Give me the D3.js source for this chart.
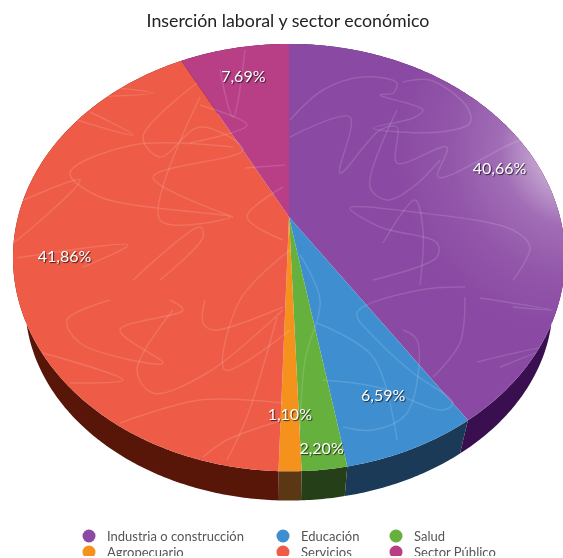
<!DOCTYPE html>
<html>
<head>
<meta charset="utf-8">
<script src="https://cdn.jsdelivr.net/npm/d3@7"></script>
<style>
html, body { margin: 0; padding: 0; background: #fff; overflow: hidden; }
svg { display: block; filter: blur(0.55px); }
text { font-family: Lato, "Open Sans", sans-serif; }
</style>
</head>
<body>
<svg id="chart" width="563" height="556"></svg>
<script>
var title = 'Inserción laboral y sector económico';
var categories = ['Industria o construcción', 'Educación', 'Salud', 'Agropecuario', 'Servicios', 'Sector Público'];
var values = [40.66, 6.59, 2.20, 1.10, 41.86, 7.69];
var labels = ['40,66%', '6,59%', '2,20%', '1,10%', '41,86%', '7,69%'];
var topColors = ['#8a49a3', '#3f8fd0', '#66b03d', '#f5921e', '#ee5c47', '#b83e86'];
var wallColors = ['#3a0f50', '#1b3a57', '#254018', '#5c3713', '#581608', '#4e1038'];
var labelRadius = [0.85, 0.8, 0.93, 0.81, 0.82, 0.81];

var svg = d3.select('#chart');
var defs = svg.append('defs');

// tilted disc: persp is the perspective strength
var persp = 0.19;
var topDisc = { cx: 289, cy: 217, rx: 271, ry: 206 };
var baseDisc = { cx: 289, cy: 266, rx: 259, ry: 190 };

function project(disc, angle, r) {
    var u = Math.sin(angle) * r,
        v = -Math.cos(angle) * r,
        w = 1 - persp * v;
    return [disc.cx + disc.rx * u / w, disc.cy + disc.ry * v / w];
}

function arcPoints(disc, a0, a1) {
    var n = Math.max(2, Math.ceil((a1 - a0) / 0.01));
    return d3.range(n + 1).map(function(i) {
        return project(disc, a0 + (a1 - a0) * i / n, 1);
    });
}

var pie = d3.pie().sort(null).value(function(d) { return d; });
var slices = pie(values);
var line = d3.line();

// walls first, only the front half can be seen
var wallG = svg.append('g');
slices.forEach(function(s, i) {
    var pts = arcPoints(topDisc, s.startAngle, s.endAngle)
        .concat(arcPoints(baseDisc, s.startAngle, s.endAngle).reverse());
    wallG.append('path')
        .attr('d', line(pts) + 'Z')
        .attr('fill', wallColors[i]);
});

// top face
var faceG = svg.append('g');
slices.forEach(function(s, i) {
    var pts = [project(topDisc, 0, 0)].concat(arcPoints(topDisc, s.startAngle, s.endAngle));
    faceG.append('path')
        .attr('d', line(pts) + 'Z')
        .attr('fill', topColors[i]);
});

var rimPath = line(arcPoints(topDisc, 0, Math.PI * 2)) + 'Z';
defs.append('clipPath').attr('id', 'rim').append('path').attr('d', rimPath);

// sheen on the right edge
var sheen = defs.append('radialGradient')
    .attr('id', 'sheen')
    .attr('gradientUnits', 'userSpaceOnUse')
    .attr('cx', 578).attr('cy', 150).attr('r', 185);
sheen.append('stop').attr('offset', '0').attr('stop-color', '#fff').attr('stop-opacity', 0.8);
sheen.append('stop').attr('offset', '0.2').attr('stop-color', '#fff').attr('stop-opacity', 0.52);
sheen.append('stop').attr('offset', '0.42').attr('stop-color', '#fff').attr('stop-opacity', 0.2);
sheen.append('stop').attr('offset', '0.7').attr('stop-color', '#fff').attr('stop-opacity', 0.07);
sheen.append('stop').attr('offset', '1').attr('stop-color', '#fff').attr('stop-opacity', 0);

svg.append('path')
    .attr('d', rimPath)
    .attr('fill', 'url(#sheen)');

// scribble texture of the original theme, only decoration
var scribbles = [
    [[403, 82], [430, 80], [467, 107], [470, 123], [440, 132], [373, 128], [413, 118], [423, 110], [380, 95], [393, 93], [397, 83], [363, 77], [323, 90], [290, 120]],
    [[290, 137], [350, 117], [340, 173], [380, 130], [397, 127], [397, 163], [447, 147], [438, 177], [513, 143], [547, 130]],
    [[397, 110], [370, 187], [387, 200], [413, 187], [440, 160]],
    [[513, 280], [530, 247], [513, 230], [413, 212], [350, 208], [380, 227], [437, 243], [437, 257], [373, 280]],
    [[383, 243], [415, 200], [423, 230], [420, 285]],
    [[197, 83], [143, 137], [160, 157], [200, 127], [243, 150], [153, 177], [233, 217]],
    [[233, 147], [133, 145], [70, 173], [100, 197], [230, 217], [160, 220], [200, 97]],
    [[77, 120], [133, 135], [90, 112]],
    [[90, 97], [153, 93], [117, 88]],
    [[17, 203], [80, 180], [33, 227], [13, 243]],
    [[17, 258], [128, 245], [83, 267]],
    [[133, 280], [200, 227], [203, 237], [160, 280]],
    [[110, 300], [67, 320], [80, 343], [163, 363], [120, 330], [183, 310], [170, 300]],
    [[43, 353], [123, 380], [70, 383]],
    [[173, 310], [137, 370], [153, 393], [207, 373], [283, 310]],
    [[120, 423], [200, 400], [283, 403]],
    [[203, 457], [227, 440], [283, 420]],
    [[227, 460], [247, 417], [277, 317]],
    [[205, 300], [203, 323], [213, 330], [283, 307]],
    [[317, 323], [373, 357], [397, 440]],
    [[465, 287], [420, 290], [357, 313], [377, 340], [413, 373], [453, 403], [443, 410], [377, 387], [323, 380]],
    [[403, 330], [417, 340], [407, 413], [373, 430], [343, 427]],
    [[465, 297], [460, 343], [433, 377]],
    [[480, 298], [553, 310], [513, 307]],
    [[477, 362], [547, 347], [500, 367]],
    [[220, 70], [233, 117], [245, 50]],
    [[200, 105], [247, 125], [190, 143]],
    [[283, 187], [247, 217], [283, 240]],
    [[245, 168], [285, 165]],
    [[290, 250], [240, 300], [225, 370], [290, 330]],
    [[300, 255], [320, 300], [305, 360], [300, 430]]
];
var scribbleLine = d3.line().curve(d3.curveCatmullRom.alpha(0.5));
svg.append('g')
    .attr('clip-path', 'url(#rim)')
    .selectAll('path')
    .data(scribbles)
    .join('path')
    .attr('d', scribbleLine)
    .attr('fill', 'none')
    .attr('stroke', '#fff')
    .attr('stroke-opacity', 0.13)
    .attr('stroke-width', 1.5);

// percent labels
var labelG = svg.append('g');
slices.forEach(function(s, i) {
    var p = project(topDisc, (s.startAngle + s.endAngle) / 2, labelRadius[i]);
    labelG.append('text')
        .attr('x', p[0])
        .attr('y', p[1] + 6)
        .attr('text-anchor', 'middle')
        .attr('font-size', 16)
        .attr('fill', '#fff')
        .style('text-shadow', '1px 1px 1px rgba(0,0,0,0.7)')
        .text(labels[i]);
});

svg.append('text')
    .attr('x', 288)
    .attr('y', 27)
    .attr('text-anchor', 'middle')
    .attr('font-size', 17.8)
    .attr('fill', '#222')
    .text(title);

// legend, three columns
var columnX = [89, 283, 396];
var legendY = d3.scalePoint().domain([0, 1]).range([536, 552]);
var legend = svg.append('g');
categories.forEach(function(c, i) {
    var col = i % 3,
        row = Math.floor(i / 3);
    legend.append('circle')
        .attr('cx', columnX[col])
        .attr('cy', legendY(row))
        .attr('r', 6.5)
        .attr('fill', topColors[i]);
    legend.append('text')
        .attr('x', columnX[col] + 18)
        .attr('y', legendY(row) + 4.5)
        .attr('font-size', 13)
        .attr('fill', '#555')
        .text(c);
});
</script>
</body>
</html>
